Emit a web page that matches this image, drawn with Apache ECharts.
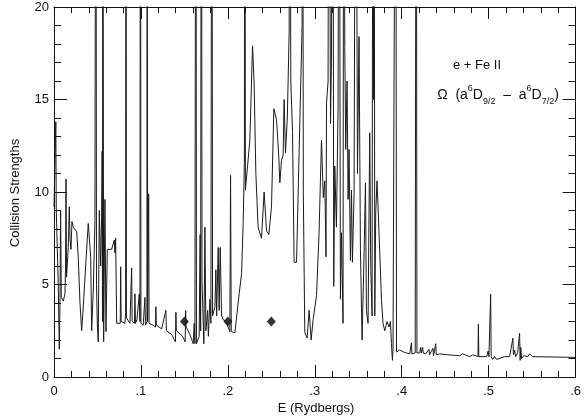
<!DOCTYPE html>
<html>
<head>
<meta charset="utf-8">
<script src="https://cdn.jsdelivr.net/npm/echarts@6/dist/echarts.min.js"></script>
<style>html,body{margin:0;padding:0;background:#fff}#c{width:584px;height:420px}</style>
</head>
<body>
<div id="c"></div>
<script>
// Energies (Rydbergs) and collision strengths
var energies = [
0,0.0012,0.0021,0.0026,0.0038,0.0049,0.0061,0.0069,0.0076,0.0080,0.0084,0.0107,0.0126,0.0133,0.0138,0.0144,
0.0164,0.0176,0.0184,0.0195,0.0207,0.0222,0.0245,0.0261,0.0279,0.0299,0.0318,0.0337,0.0368,0.0394,0.0406,0.0422,
0.0433,0.0452,0.0471,0.0481,0.0489,0.0498,0.0509,0.0521,0.0537,0.0548,0.0554,0.0558,0.0561,0.0571,0.0586,0.0598,
0.0613,0.0636,0.0663,0.0682,0.0693,0.0701,0.0709,0.0721,0.0736,0.0762,0.0767,0.0772,0.0816,0.0824,0.0828,0.0833,
0.0874,0.0890,0.0893,0.0899,0.0926,0.0931,0.0937,0.0954,0.0977,0.0981,0.0989,0.0994,0.1000,0.1026,0.1046,0.1052,
0.1069,0.1072,0.1077,0.1089,0.1094,0.1141,0.1168,0.1172,0.1177,0.1238,0.1287,0.1293,0.1353,0.1397,0.1402,0.1408,
0.1479,0.1509,0.1514,0.1520,0.1563,0.1601,0.1613,0.1621,0.1632,0.1639,0.1670,0.1681,0.1687,0.1695,0.1703,0.1724,
0.1736,0.1747,0.1767,0.1776,0.1793,0.1805,0.1816,0.1824,0.1836,0.1851,0.1862,0.1871,0.1889,0.1900,0.1912,0.1928,
0.1946,0.1985,0.2003,0.2023,0.2031,0.2039,0.2081,0.2100,0.2130,0.2158,0.2176,0.2190,0.2195,0.2202,0.2215,0.2253,
0.2284,0.2302,0.2322,0.2348,0.2387,0.2417,0.2445,0.2471,0.2502,0.2529,0.2560,0.2586,0.2598,0.2617,0.2636,0.2647,
0.2663,0.2684,0.2705,0.2713,0.2724,0.2744,0.2762,0.2790,0.2816,0.2854,0.2859,0.2868,0.2885,0.2912,0.2935,0.2958,
0.2981,0.3020,0.3049,0.3077,0.3098,0.3115,0.3129,0.3135,0.3153,0.3161,0.3181,0.3192,0.3207,0.3218,0.3230,0.3249,
0.3268,0.3279,0.3295,0.3307,0.3325,0.3333,0.3345,0.3356,0.3371,0.3383,0.3394,0.3410,0.3422,0.3433,0.3452,0.3471,
0.3491,0.3509,0.3525,0.3544,0.3567,0.3583,0.3594,0.3613,0.3632,0.3644,0.3659,0.3670,0.3676,0.3682,0.3690,0.3701,
0.3716,0.3739,0.3767,0.3785,0.3805,0.3831,0.3854,0.3870,0.3882,0.3893,0.3900,0.3920,0.3931,0.3940,0.3954,0.3977,
0.4000,0.4023,0.4054,0.4092,0.4109,0.4112,0.4117,0.4138,0.4155,0.4167,0.4175,0.4207,0.4218,0.4225,0.4241,0.4248,
0.4276,0.4314,0.4320,0.4360,0.4366,0.4391,0.4398,0.4437,0.4529,0.4535,0.4540,0.4667,0.4701,0.4713,0.4782,0.4816,
0.4851,0.4877,0.4882,0.4887,0.4977,0.4994,0.5003,0.5017,0.5023,0.5029,0.5046,0.5069,0.5092,0.5115,0.5184,0.5241,
0.5264,0.5279,0.5285,0.5299,0.5310,0.5333,0.5356,0.5362,0.5370,0.5379,0.5402,0.5448,0.5471,0.5491,0.5506,0.6
];
var strengths = [
9.2,9.2,13.8,9.0,9.0,5.0,1.5,4.0,9.0,9.0,4.3,4.1,4.5,6.0,10.7,5.4,
7.0,9.2,7.5,6.9,8.4,8.1,8.2,7.85,6.5,4.0,2.5,3.8,6.3,8.3,8.4,6.5,
2.5,4.7,8.4,40,5.0,2.9,1.9,9.0,6.0,8.7,12.2,3.0,40,1.9,9.6,2.45,
6.9,6.9,6.9,6.9,7.4,6.7,7.5,2.9,2.8,2.9,5.96,3.0,2.9,3.5,40,3.2,
2.9,3.0,5.9,3.0,2.9,4.5,2.9,3.1,3.0,4.5,3.0,40,2.9,2.8,4.3,2.8,
3.0,40,3.0,9.9,2.9,2.8,2.7,3.8,2.8,2.6,3.6,2.5,2.3,1.9,3.5,2.5,
2.2,1.9,3.6,2.7,2.3,1.8,2.9,1.8,40,1.8,2.2,7.7,2.5,40,5.1,1.8,
8.1,2.5,3.6,2.2,4.2,2.9,40,3.3,3.3,3.8,5.8,3.3,7.0,3.6,7.0,3.3,
3.1,3.0,2.7,2.45,10.9,2.45,2.4,2.45,4.5,5.6,8.3,11.6,40,10.1,10.1,12.8,
17.9,15.9,11.0,8.1,7.5,10.0,7.9,7.7,9.2,14.5,13.9,11.9,10.5,11.7,12.0,15.0,
12.1,14.0,18.6,40,16.0,13.2,6.2,6.2,11.4,19.0,40,10.0,2.4,2.1,3.6,2.0,
3.1,4.4,7.8,12.8,9.7,10.6,6.5,14.8,16.0,40,13.7,17.3,40,4.9,11.4,8.1,
14.6,40,4.2,7.8,2.9,40,17.8,12.3,16.0,9.6,12.3,6.3,10.1,6.2,9.9,40,
11.0,18.4,6.9,2.0,6.7,10.5,3.6,2.9,13.2,5.9,3.3,40,15.0,40,3.3,8.9,
10.6,7.8,4.2,2.9,2.5,3.0,2.7,3.0,1.8,0.9,1.46,1.4,40,1.35,1.45,1.46,
1.4,1.35,1.3,1.25,1.2,1.85,1.25,1.3,1.3,40,1.3,1.3,1.6,1.3,1.6,1.3,
1.25,1.5,1.2,1.55,1.15,1.8,1.2,1.25,1.2,1.3,1.2,1.15,1.25,1.15,1.1,1.2,
1.15,1.1,2.86,1.1,1.1,1.4,1.1,1.1,4.47,1.1,0.95,1.1,0.95,1.05,1.1,1.1,
1.2,2.1,1.2,1.45,1.1,1.3,2.36,0.9,1.6,1.0,1.15,1.1,1.25,1.3,1.1,1.06
];
var diamondE = [0.15, 0.20, 0.25];
var diamondOmega = [3.0, 3.0, 3.0];
var xTickLabels = ['0', '.1', '.2', '.3', '.4', '.5', '.6'];
var yTickLabels = ['0', '5', '10', '15', '20'];

var lineData = energies.map(function (e, i) { return [e, strengths[i]]; });
var diamondData = diamondE.map(function (e, i) { return [e, diamondOmega[i]]; });

var FONT = 'Liberation Sans, Arial, Helvetica, sans-serif';
var chart = echarts.init(document.getElementById('c'), null, { renderer: 'canvas' });

function xAxisCfg(pos, showLabel) {
  return {
    type: 'value', position: pos, min: 0, max: 0.6, interval: 0.1,
    axisLine: { show: true, onZero: false, lineStyle: { color: '#111', width: 1 } },
    axisTick: { show: true, inside: true, length: 12, lineStyle: { color: '#111', width: 1 } },
    minorTick: { show: true, splitNumber: 5, length: 6, lineStyle: { color: '#111', width: 1 } },
    splitLine: { show: false },
    axisLabel: {
      show: showLabel, margin: 8, color: '#111', fontSize: 13, fontFamily: FONT,
      formatter: function (v) { return xTickLabels[Math.round(v / 0.1)]; }
    }
  };
}
function yAxisCfg(pos, showLabel) {
  return {
    type: 'value', position: pos, min: 0, max: 20, interval: 5,
    axisLine: { show: true, onZero: false, lineStyle: { color: '#111', width: 1 } },
    axisTick: { show: true, inside: true, length: 13, lineStyle: { color: '#111', width: 1 } },
    minorTick: { show: true, splitNumber: 5, length: 7, lineStyle: { color: '#111', width: 1 } },
    splitLine: { show: false },
    axisLabel: {
      show: showLabel, margin: 5, color: '#111', fontSize: 13, fontFamily: FONT,
      formatter: function (v) { return yTickLabels[Math.round(v / 5)]; }
    }
  };
}

chart.setOption({
  animation: false,
  backgroundColor: '#fff',
  grid: { left: 54, right: 8, top: 7, bottom: 43, containLabel: false },
  xAxis: [xAxisCfg('bottom', true), xAxisCfg('top', false)],
  yAxis: [yAxisCfg('left', true), yAxisCfg('right', false)],
  series: [
    {
      type: 'line', xAxisIndex: 0, yAxisIndex: 0, data: lineData,
      showSymbol: false, symbol: 'none', clip: true,
      lineStyle: { color: '#1a1a1a', width: 1 }
    },
    {
      type: 'scatter', xAxisIndex: 0, yAxisIndex: 0, data: diamondData,
      symbol: 'diamond', symbolSize: [9, 10],
      itemStyle: { color: '#000' }
    }
  ],
  graphic: [
    {
      type: 'text', x: 15, y: 193, rotation: Math.PI / 2,
      style: { text: 'Collision Strengths', fill: '#111', font: '13px ' + FONT, align: 'center', verticalAlign: 'middle' }
    },
    {
      type: 'text', x: 316, y: 408,
      style: { text: 'E (Rydbergs)', fill: '#111', font: '13px ' + FONT, align: 'center', verticalAlign: 'middle' }
    },
    {
      type: 'text', x: 477, y: 65,
      style: { text: 'e + Fe II', fill: '#111', font: '13px ' + FONT, align: 'center', verticalAlign: 'middle' }
    },
    {
      type: 'text', x: 498, y: 95,
      style: {
        text: '{b|Ω  (a}{sp|6}{b|D}{sb|9/2}{b|  –  a}{sp|6}{b|D}{sb|7/2}{b|)}',
        align: 'center', verticalAlign: 'middle',
        rich: {
          b: { fontSize: 14, fontFamily: FONT, fill: '#111', lineHeight: 22, verticalAlign: 'middle' },
          sp: { fontSize: 9, fontFamily: FONT, fill: '#111', lineHeight: 12, verticalAlign: 'top' },
          sb: { fontSize: 9, fontFamily: FONT, fill: '#111', lineHeight: 12, verticalAlign: 'bottom' }
        }
      }
    }
  ]
});
</script>
</body>
</html>
